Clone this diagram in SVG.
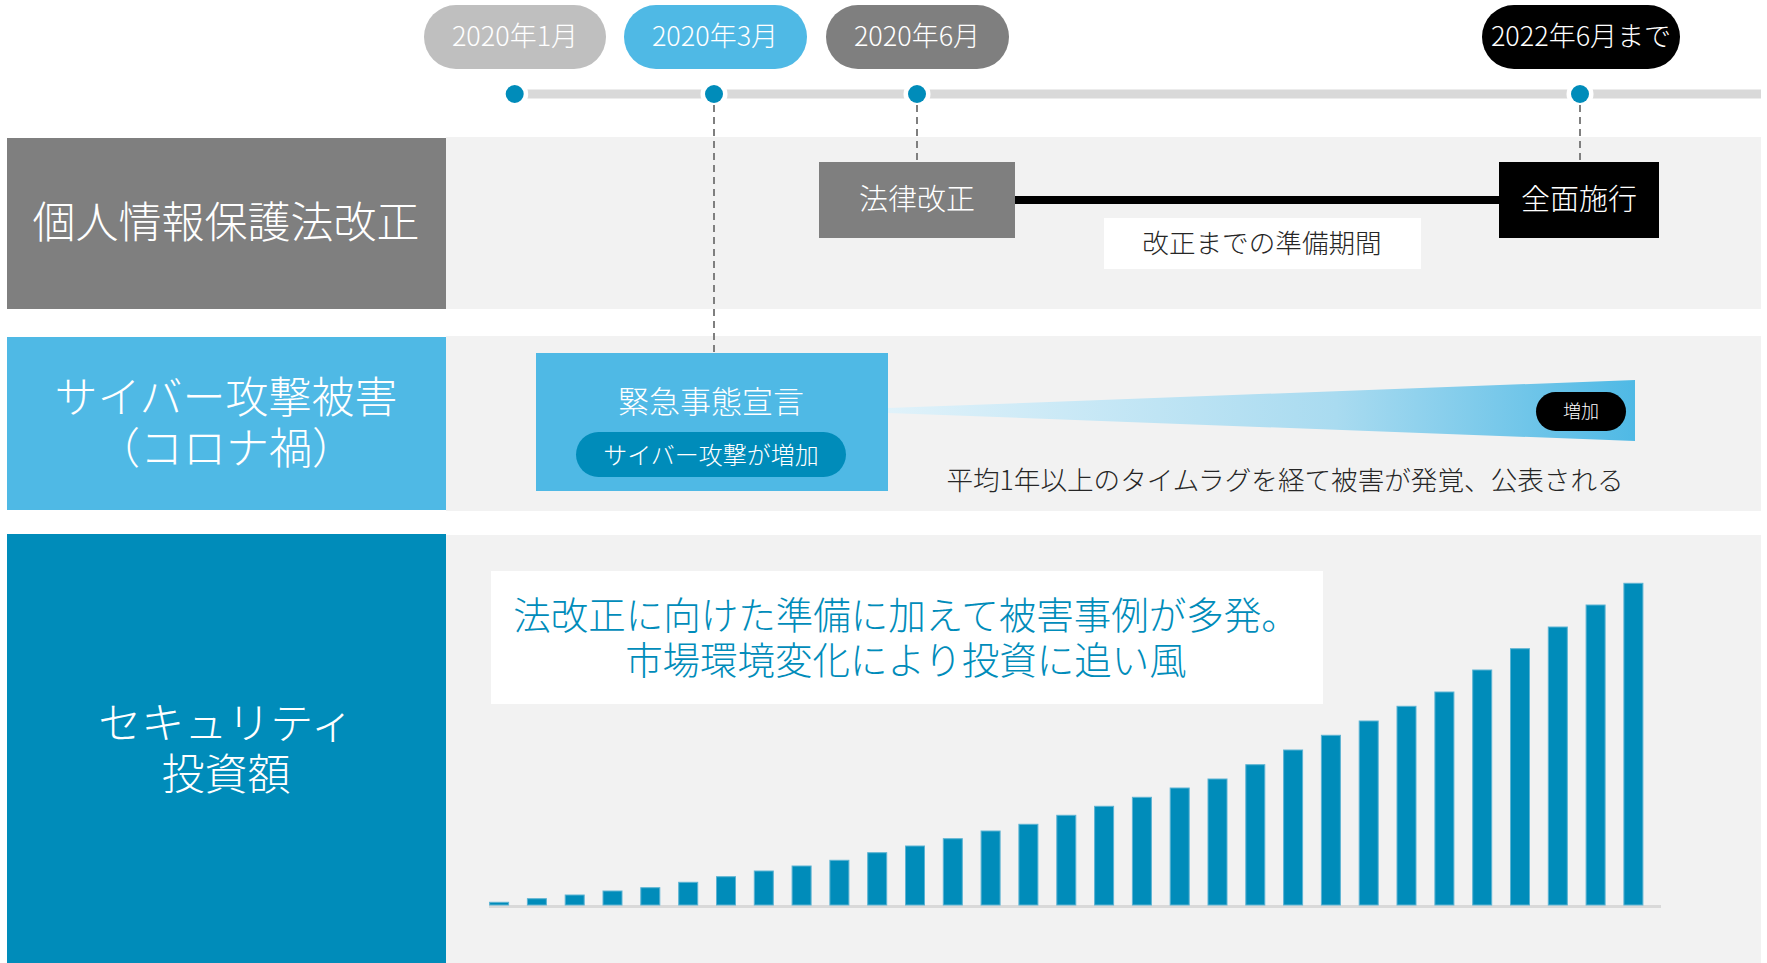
<svg xmlns="http://www.w3.org/2000/svg" width="1767" height="963" viewBox="0 0 1767 963">
<defs>
<style>
text{font-family:"Noto Sans CJK JP","Noto Sans",sans-serif;font-weight:300;dominant-baseline:central;text-anchor:middle}
.w{fill:#ffffff}
.d{fill:#262626}
.panel{fill:#f2f2f2}
.bar{fill:#008cba;stroke:#5cb3d3;stroke-width:1}
.dash{stroke:#7f7f7f;stroke-width:2;stroke-dasharray:7 5;fill:none}
.dot{fill:#008cba}
.halo{fill:#ffffff}
</style>
<linearGradient id="wedge" gradientUnits="userSpaceOnUse" x1="888" y1="0" x2="1635" y2="0">
<stop offset="0" stop-color="#e0f2fa"/>
<stop offset="0.6" stop-color="#a9dbf0"/>
<stop offset="1" stop-color="#4fb9e5"/>
</linearGradient>
</defs>
<rect width="1767" height="963" fill="#ffffff"/>

<g id="timeline">
<rect x="520" y="89.5" width="1241" height="9" fill="#d9d9d9"/>
<circle class="halo" cx="514.7" cy="94" r="13.5"/>
<circle class="dot" cx="514.7" cy="94" r="9"/>
<circle class="halo" cx="714" cy="94" r="13.5"/>
<circle class="dot" cx="714" cy="94" r="9"/>
<circle class="halo" cx="917" cy="94" r="13.5"/>
<circle class="dot" cx="917" cy="94" r="9"/>
<circle class="halo" cx="1580" cy="94" r="13.5"/>
<circle class="dot" cx="1580" cy="94" r="9"/>
</g>

<g id="date-2020-01">
<rect x="424" y="5" width="182" height="64" rx="32" fill="#bfbfbf"/>
<text class="w" x="515" y="34" font-size="27">2020年1月</text>
</g>
<g id="date-2020-03">
<rect x="624" y="5" width="183" height="64" rx="32" fill="#4fb9e5"/>
<text class="w" x="715" y="34" font-size="27">2020年3月</text>
</g>
<g id="date-2020-06">
<rect x="826" y="5" width="183" height="64" rx="32" fill="#7f7f7f"/>
<text class="w" x="917" y="34" font-size="27">2020年6月</text>
</g>
<g id="date-2022-06">
<rect x="1482" y="5" width="198" height="64" rx="32" fill="#000000"/>
<text class="w" x="1581" y="34" font-size="27">2022年6月まで</text>
</g>

<g id="panels">
<rect class="panel" x="446" y="137" width="1315" height="172"/>
<rect class="panel" x="446" y="336" width="1315" height="175"/>
<rect class="panel" x="446" y="535" width="1315" height="428"/>
</g>

<g id="label-privacy">
<rect x="7" y="138" width="439" height="171" fill="#7f7f7f"/>
<text class="w" x="226" y="219" font-size="43">個人情報保護法改正</text>
</g>
<g id="label-cyber">
<rect x="7" y="337" width="439" height="173" fill="#4fb9e5"/>
<text class="w" x="226" y="394" font-size="43">サイバー攻撃被害</text>
<text class="w" x="226" y="445" font-size="43">（コロナ禍）</text>
</g>
<g id="label-invest">
<rect x="7" y="534" width="439" height="429" fill="#008cba"/>
<text class="w" x="226" y="720" font-size="43">セキュリティ</text>
<text class="w" x="226" y="771" font-size="43">投資額</text>
</g>

<g id="connectors">
<line class="dash" x1="714" y1="105" x2="714" y2="352"/>
<line class="dash" x1="917" y1="105" x2="917" y2="162"/>
<line class="dash" x1="1580" y1="105" x2="1580" y2="162"/>
<line x1="1015" y1="200" x2="1499" y2="200" stroke="#000000" stroke-width="8"/>
</g>

<g id="law-revision">
<rect x="819" y="162" width="196" height="76" fill="#7f7f7f"/>
<text class="w" x="917" y="197" font-size="29">法律改正</text>
</g>
<g id="full-enforcement">
<rect x="1499" y="162" width="160" height="76" fill="#000000"/>
<text class="w" x="1579" y="197" font-size="29">全面施行</text>
</g>
<g id="prep-period">
<rect x="1104" y="218" width="317" height="51" fill="#ffffff"/>
<text class="d" x="1262" y="241" font-size="26.6">改正までの準備期間</text>
</g>

<g id="wedge-increase">
<polygon points="888,408 1635,380 1635,441 888,413" fill="url(#wedge)"/>
<rect x="1536" y="392" width="90" height="39" rx="19.5" fill="#000000"/>
<text class="w" x="1581" y="410" font-size="18">増加</text>
</g>

<g id="emergency">
<rect x="536" y="353" width="352" height="138" fill="#4fb9e5"/>
<text class="w" x="711" y="399" font-size="31">緊急事態宣言</text>
<rect x="576" y="432" width="270" height="45" rx="22.5" fill="#008cba"/>
<text class="w" x="711" y="453" font-size="24">サイバー攻撃が増加</text>
</g>

<g id="lag-note">
<text class="d" x="1285" y="478" font-size="26.6">平均1年以上のタイムラグを経て被害が発覚、公表される</text>
</g>

<g id="chart">
<line x1="489" y1="906.5" x2="1661" y2="906.5" stroke="#d9d9d9" stroke-width="3"/>
<rect class="bar" x="489.6" y="902.3" width="19" height="2.7"/>
<rect class="bar" x="527.4" y="898.7" width="19" height="6.3"/>
<rect class="bar" x="565.2" y="895" width="19" height="10"/>
<rect class="bar" x="603.0" y="891" width="19" height="14"/>
<rect class="bar" x="640.8" y="887.7" width="19" height="17.3"/>
<rect class="bar" x="678.7" y="882.3" width="19" height="22.7"/>
<rect class="bar" x="716.5" y="876.7" width="19" height="28.3"/>
<rect class="bar" x="754.3" y="871" width="19" height="34"/>
<rect class="bar" x="792.1" y="866" width="19" height="39"/>
<rect class="bar" x="829.9" y="860.3" width="19" height="44.7"/>
<rect class="bar" x="867.7" y="852.7" width="19" height="52.3"/>
<rect class="bar" x="905.5" y="846" width="19" height="59"/>
<rect class="bar" x="943.3" y="838.7" width="19" height="66.3"/>
<rect class="bar" x="981.1" y="831" width="19" height="74"/>
<rect class="bar" x="1018.9" y="824.3" width="19" height="80.7"/>
<rect class="bar" x="1056.8" y="815.3" width="19" height="89.7"/>
<rect class="bar" x="1094.6" y="806.3" width="19" height="98.7"/>
<rect class="bar" x="1132.4" y="797.3" width="19" height="107.7"/>
<rect class="bar" x="1170.2" y="788" width="19" height="117"/>
<rect class="bar" x="1208.0" y="779" width="19" height="126"/>
<rect class="bar" x="1245.8" y="764.7" width="19" height="140.3"/>
<rect class="bar" x="1283.6" y="750" width="19" height="155"/>
<rect class="bar" x="1321.4" y="735.3" width="19" height="169.7"/>
<rect class="bar" x="1359.2" y="721" width="19" height="184"/>
<rect class="bar" x="1397.0" y="706.3" width="19" height="198.7"/>
<rect class="bar" x="1434.9" y="692" width="19" height="213"/>
<rect class="bar" x="1472.7" y="670" width="19" height="235"/>
<rect class="bar" x="1510.5" y="648.7" width="19" height="256.3"/>
<rect class="bar" x="1548.3" y="627" width="19" height="278"/>
<rect class="bar" x="1586.1" y="605" width="19" height="300"/>
<rect class="bar" x="1623.9" y="583.3" width="19" height="321.7"/>
</g>

<g id="callout">
<rect x="491" y="571" width="832" height="133" fill="#ffffff"/>
<text x="906" y="612" font-size="37.5" fill="#008cba">法改正に向けた準備に加えて被害事例が多発。</text>
<text x="906" y="657" font-size="37.5" fill="#008cba">市場環境変化により投資に追い風</text>
</g>
</svg>
